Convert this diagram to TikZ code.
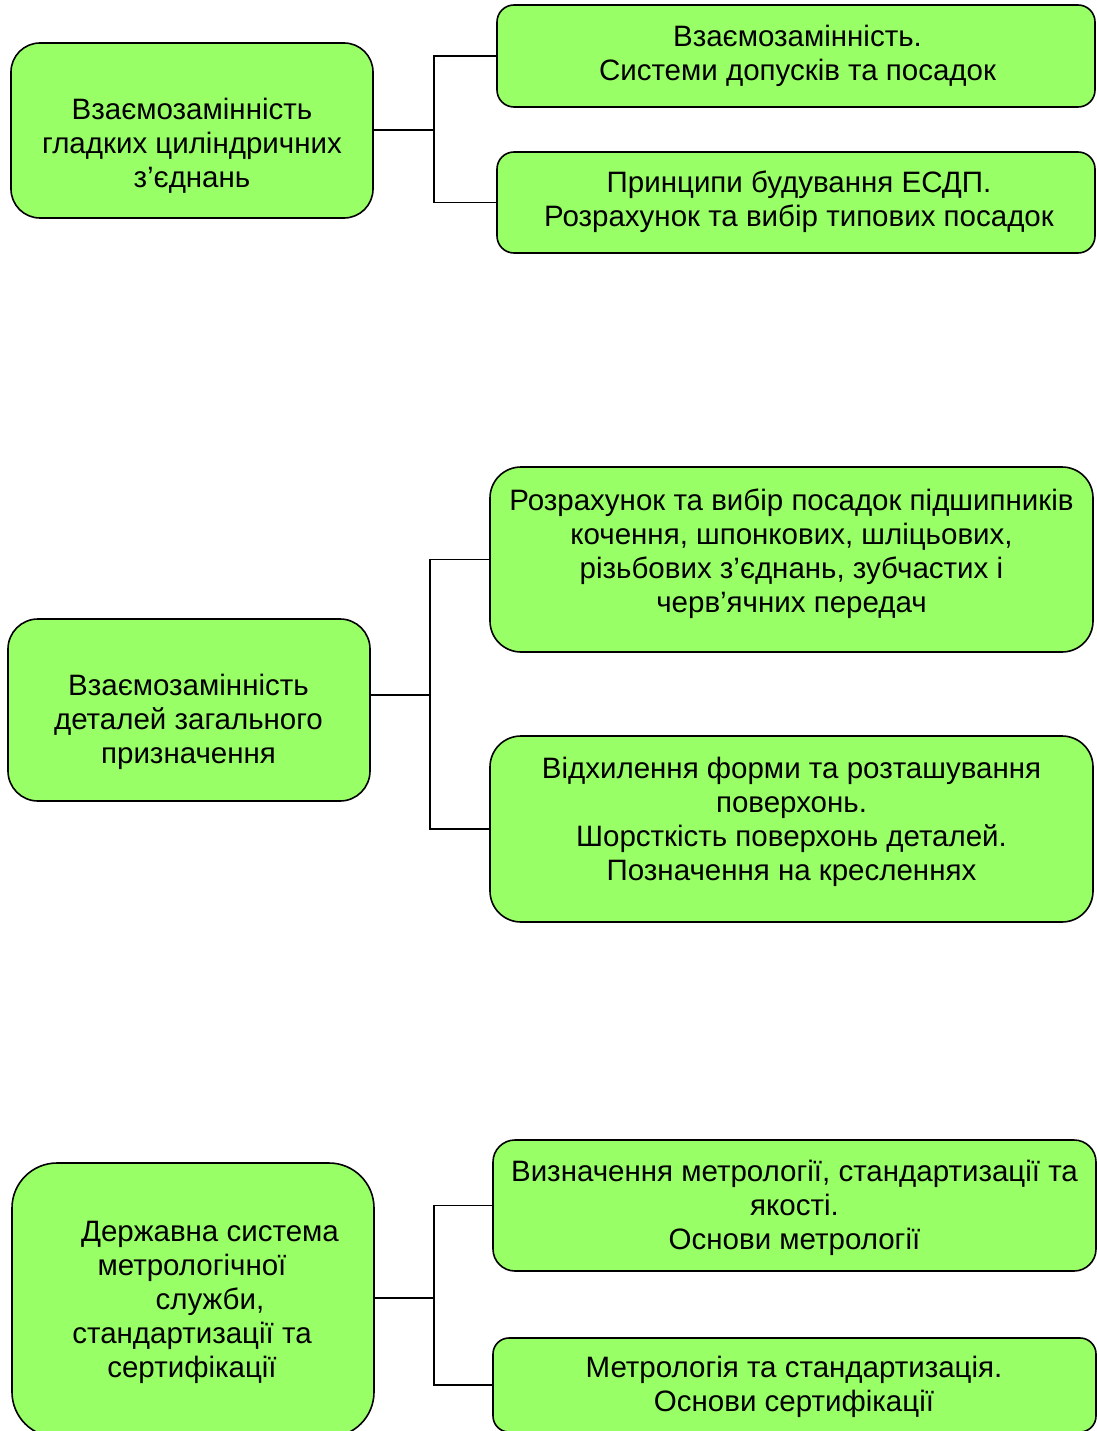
\documentclass[tikz,border=0pt]{standalone}
\usepackage{fontspec}
\setmainfont{Liberation Sans}
\definecolor{leafgreen}{RGB}{153,255,102}
\tikzset{box/.style={draw, line width=1.6pt, fill=leafgreen, inner sep=0pt},
  txt/.style={align=center, font=\fontsize{29.5}{34}\selectfont},
  link/.style={line width=1.7pt}}

\begin{document}
\begin{tikzpicture}[x=1pt, y=-1pt]
    \useasboundingbox (0, 0) rectangle (1096, 1431);
    \node[box, minimum width=362pt, minimum height=175pt, rounded corners=29pt] (A) at (192, 130.5) {};
    \node[box, minimum width=598pt, minimum height=102pt, rounded corners=17pt] (A1) at (796, 56) {};
    \node[box, minimum width=598pt, minimum height=101pt, rounded corners=17pt] (A2) at (796, 202.5) {};
    \node[box, minimum width=362pt, minimum height=182pt, rounded corners=30pt] (B) at (189, 710) {};
    \node[box, minimum width=603pt, minimum height=185pt, rounded corners=31pt] (B1) at (791.5, 559.5) {};
    \node[box, minimum width=603pt, minimum height=186pt, rounded corners=31pt] (B2) at (791.5, 829) {};
    \node[box, minimum width=362pt, minimum height=274pt, rounded corners=45pt] (C) at (193, 1300) {};
    \node[box, minimum width=603pt, minimum height=131pt, rounded corners=22pt] (C1) at (794.5, 1205.5) {};
    \node[box, minimum width=603pt, minimum height=94pt, rounded corners=16pt] (C2) at (794.5, 1385) {};
    \node[txt] (At) at (192, 146) {Взаємозамінність\\гладких циліндричних\\з’єднань};
    \node[txt] (A1t) at (797.5, 56) {Взаємозамінність.\\Системи допусків та посадок};
    \node[txt] (A2t) at (799, 202) {Принципи будування ЕСДП.\\Розрахунок та вибір типових посадок};
    \node[txt] (Bt) at (188.5, 722) {Взаємозамінність\\деталей загального\\призначення};
    \node[txt] (B1t) at (791.5, 553.5) {Розрахунок та вибір посадок підшипників\\кочення, шпонкових, шліцьових,\\різьбових з’єднань, зубчастих і\\черв’ячних передач};
    \node[txt] (B2t) at (791.5, 822) {Відхилення форми та розташування\\поверхонь.\\Шорсткість поверхонь деталей.\\Позначення на кресленнях};
    \node[txt] (Ct) at (192, 1302) {\hspace*{36pt}Державна система\\метрологічної\\\hspace*{36pt}служби,\\стандартизації та\\сертифікації};
    \node[txt] (C1t) at (794.5, 1208) {Визначення метрології, стандартизації та\\якості.\\Основи метрології};
    \node[txt] (C2t) at (794, 1387) {Метрологія та стандартизація.\\Основи сертифікації};
    \coordinate (jA) at (434, 130);
    \coordinate (jB) at (430, 695);
    \coordinate (jC) at (434, 1298);
    \draw[link] (jA -| A.east) -- (jA);
    \draw[link] (A1.west) -| (jA) |- (A2.west);
    \draw[link] (jB -| B.east) -- (jB);
    \draw[link] (B1.west) -| (jB) |- (B2.west);
    \draw[link] (jC -| C.east) -- (jC);
    \draw[link] (C1.west) -| (jC) |- (C2.west);
\end{tikzpicture}
\end{document}
